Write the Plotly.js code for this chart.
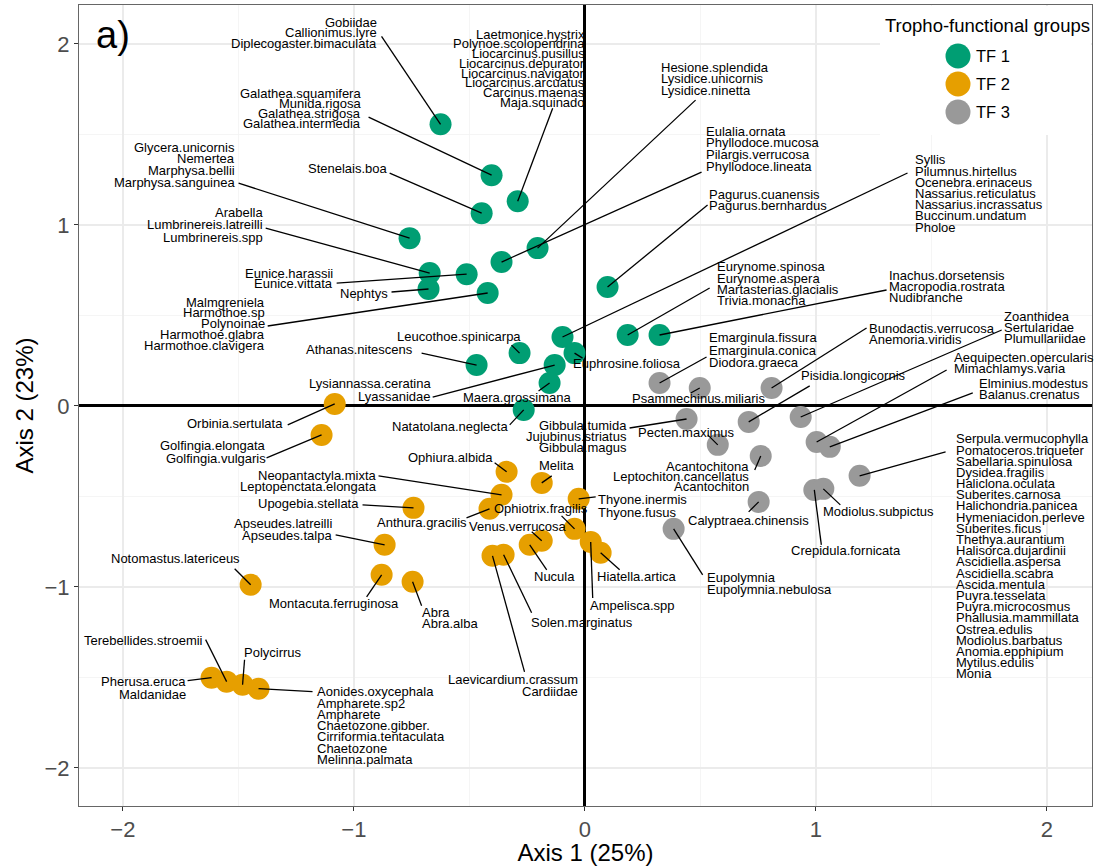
<!DOCTYPE html>
<html><head><meta charset="utf-8">
<script src="https://cdn.plot.ly/plotly-3.0.1.min.js"></script>
<style>html,body{margin:0;padding:0;background:#fff}#chart{width:1101px;height:866px}</style>
</head><body><div id="chart"></div>
<script>
// ---------------- DATA ----------------
const tfNames = ['TF 1', 'TF 2', 'TF 3'];
const tfColors = ['#009E73', '#E69F00', '#999999'];
const xTitle = 'Axis 1 (25%)';
const yTitle = 'Axis 2 (23%)';
const legendTitle = 'Tropho-functional groups';
const panelTag = 'a)';

const tf1X = [-0.625, -0.404, -0.291, -0.447, -0.759, -0.205, -0.361, -0.512, -0.672, -0.677, -0.421, 0.098, -0.097, 0.185, 0.323, -0.283, -0.469, -0.045, -0.131, -0.153, -0.265];
const tf1Y = [1.556, 1.275, 1.131, 1.065, 0.927, 0.872, 0.795, 0.728, 0.734, 0.646, 0.624, 0.657, 0.381, 0.392, 0.392, 0.292, 0.226, 0.292, 0.226, 0.127, -0.022];
const tf1Labels = [
  'Gobiidae\nCallionimus.lyre\nDiplecogaster.bimaculata',
  'Galathea.squamifera\nMunida.rigosa\nGalathea.strigosa\nGalathea.intermedia',
  'Laetmonice.hystrix\nPolynoe.scolopendrina\nLiocarcinus.pusillus\nLiocarcinus.depurator\nLiocarcinus.navigator\nLiocarcinus.arcuatus\nCarcinus.maenas\nMaja.squinado',
  'Stenelais.boa',
  'Glycera.unicornis\nNemertea\nMarphysa.bellii\nMarphysa.sanguinea',
  'Hesione.splendida\nLysidice.unicornis\nLysidice.ninetta',
  'Eulalia.ornata\nPhyllodoce.mucosa\nPilargis.verrucosa\nPhyllodoce.lineata',
  'Eunice.harassii\nEunice.vittata',
  'Arabella\nLumbrinereis.latreilli\nLumbrinereis.spp',
  'Nephtys',
  'Malmgreniela\nHarmothoe.sp\nPolynoinae\nHarmothoe.glabra\nHarmothoe.clavigera',
  'Pagurus.cuanensis\nPagurus.bernhardus',
  'Syllis\nPilumnus.hirtellus\nOcenebra.erinaceus\nNassarius.reticulatus\nNassarius.incrassatus\nBuccinum.undatum\nPholoe',
  'Eurynome.spinosa\nEurynome.aspera\nMartasterias.glacialis\nTrivia.monacha',
  'Inachus.dorsetensis\nMacropodia.rostrata\nNudibranche',
  'Leucothoe.spinicarpa',
  'Athanas.nitescens',
  'Euphrosine.foliosa',
  'Lysiannassa.ceratina\nLyassanidae',
  'Maera.grossimana',
  'Natatolana.neglecta'
];

const tf2X = [-1.083, -1.140, -0.339, -0.187, -0.361, -0.413, -0.742, -0.867, -1.447, -0.880, -0.746, -0.027, -0.045, -0.239, -0.187, -0.400, -0.352, 0.025, 0.068, -1.616, -1.551, -1.482, -1.413];
const tf2Y = [0.011, -0.160, -0.364, -0.425, -0.491, -0.568, -0.563, -0.767, -0.988, -0.933, -0.971, -0.513, -0.679, -0.767, -0.745, -0.828, -0.822, -0.751, -0.811, -1.501, -1.523, -1.540, -1.562];
const tf2Labels = [
  'Orbinia.sertulata',
  'Golfingia.elongata\nGolfingia.vulgaris',
  'Ophiura.albida',
  'Melita',
  'Neopantactyla.mixta\nLeptopenctata.elongata',
  'Anthura.gracilis',
  'Upogebia.stellata',
  'Apseudes.latreilli\nApseudes.talpa',
  'Notomastus.latericeus',
  'Montacuta.ferruginosa',
  'Abra\nAbra.alba',
  'Thyone.inermis\nThyone.fusus',
  'Ophiotrix.fragilis',
  'Nucula',
  'Venus.verrucosa',
  'Laevicardium.crassum\nCardiidae',
  'Solen.marginatus',
  'Ampelisca.spp',
  'Hiatella.artica',
  'Pherusa.eruca\nMaldanidae',
  'Terebellides.stroemii',
  'Polycirrus',
  'Aonides.oxycephala\nAmpharete.sp2\nAmpharete\nChaetozone.gibber.\nCirriformia.tentaculata\nChaetozone\nMelinna.palmata'
];

const tf3X = [0.323, 0.497, 0.808, 0.440, 0.709, 0.934, 1.003, 1.060, 0.575, 0.761, 1.189, 0.993, 1.032, 0.752, 0.384];
const tf3Y = [0.127, 0.099, 0.099, -0.072, -0.088, -0.061, -0.199, -0.226, -0.215, -0.276, -0.386, -0.464, -0.458, -0.530, -0.679];
const tf3Labels = [
  'Emarginula.fissura\nEmarginula.conica\nDiodora.graeca',
  'Psammechinus.miliaris',
  'Bunodactis.verrucosa\nAnemoria.viridis',
  'Gibbula.tumida\nJujubinus.striatus\nGibbula.magus',
  'Pisidia.longicornis',
  'Zoanthidea\nSertularidae\nPlumullariidae',
  'Aequipecten.opercularis\nMimachlamys.varia',
  'Elminius.modestus\nBalanus.crenatus',
  'Pecten.maximus',
  'Acantochitona\nLeptochiton.cancellatus\nAcantochiton',
  'Serpula.vermucophylla\nPomatoceros.triqueter\nSabellaria.spinulosa\nDysidea.fragilis\nHaliclona.oculata\nSuberites.carnosa\nHalichondria.panicea\nHymeniacidon.perleve\nSuberites.ficus\nThethya.aurantium\nHalisorca.dujardinii\nAscidiella.aspersa\nAscidiella.scabra\nAscida.mentula\nPuyra.tesselata\nPuyra.microcosmus\nPhallusia.mammillata\nOstrea.edulis\nModiolus.barbatus\nAnomia.epphipium\nMytilus.edulis\nMonia',
  'Crepidula.fornicata',
  'Modiolus.subpictus',
  'Calyptraea.chinensis',
  'Eupolymnia\nEupolymnia.nebulosa'
];

// ---------------- LABEL PLACEMENT (repel layout, pixel offsets from each point) ----------------
// [segment tail dx, dy, text anchor dx, dy, text alignment, line spacing]  (screen px, y down)
const tf1LabelPos = [
  [-59, -88, -64, -102, 'right', 10.7],
  [-123, -58, -131, -82, 'right', 10],
  [35, -93, 67, -167, 'right', 9.7],
  [-92, -40, -94, -45, 'right', 11],
  [-171, -55, -175, -91, 'right', 11.7],
  [158, -148, 123, -181, 'left', 11.5],
  [200, -90, 204, -131, 'left', 11.7],
  [-130, 9, -134, -1, 'right', 10.7],
  [-164, -45, -167, -61, 'right', 12.5],
  [-37, 3, -41, 4, 'right', 11],
  [-220, 33, -223, 9, 'right', 10.8],
  [100, -82, 101, -93, 'left', 11.5],
  [345, -164, 352, -177, 'left', 11.2],
  [82, -47, 89, -68, 'left', 11.3],
  [227, -45, 229, -59, 'left', 10.8],
  [-8, -8, 1, -17, 'right', 11],
  [-55, -12, -64, -16, 'right', 11],
  [8, 5, -2, 10, 'left', 11],
  [-122, 32, -124, 18, 'right', 13],
  [-11, 8, -33, 15, 'center', 11],
  [-14, 15, -16, 17, 'right', 11]
];
const tf2LabelPos = [
  [-47, 21, -52, 20, 'right', 11],
  [-55, 23, -56, 11, 'right', 12.5],
  [-12, -9, -14, -14, 'right', 11],
  [10, -7, 15, -17, 'center', 11],
  [-123, -19, -125, -19, 'right', 11],
  [-23, 9, -23, 14, 'right', 11],
  [-51, -3, -55, -4, 'right', 11],
  [-49, -10, -53, -21, 'right', 12],
  [-16, -16, -11, -26, 'right', 11],
  [-15, 22, -48, 29, 'center', 11],
  [9, 24, 9, 31, 'left', 11],
  [17, -2, 19, 1, 'left', 12.3],
  [-13, -13, -34, -20, 'center', 11],
  [17, 25, 25, 32, 'center', 11],
  [-10, -9, -24, -14, 'center', 11],
  [32, 116, 85, 124, 'right', 12],
  [28, 58, 27, 68, 'left', 11],
  [2, 56, -1, 64, 'left', 11],
  [19, 17, -4, 24, 'left', 11],
  [-24, 3, -26, 4, 'right', 13],
  [-21, -42, -24, -41, 'right', 11],
  [2, -25, 1, -32, 'left', 11],
  [54, 3, 58, 3, 'left', 11.3]
];
const tf3LabelPos = [
  [47, -26, 49, -45, 'left', 12.3],
  [-9, 5, -1, 10, 'center', 11],
  [95, -60, 97, -60, 'left', 11],
  [-57, 9, -60, 7, 'right', 11],
  [61, -36, 105, -46, 'center', 11],
  [201, -87, 203, -100, 'left', 11],
  [130, -72, 137, -84, 'left', 11],
  [143, -54, 149, -63, 'left', 11],
  [-10, -10, -31, -12, 'center', 11],
  [-6, 14, -12, 11, 'right', 10],
  [86, -24, 96, -37, 'left', 11.19],
  [7, 55, 31.5, 61, 'center', 11],
  [17, 16, 0, 23, 'left', 11],
  [-10, 10, -10.5, 19, 'center', 11],
  [29, 46, 33, 49, 'left', 12]
];

// ---------------- BUILD ----------------
const FONT = 'Liberation Sans, Arial, Helvetica, sans-serif';
const W = 1101, H = 866;
const M = {l: 79, r: 9, t: 5, b: 60};
const px2x = p => (p - M.l) / (W - M.l - M.r);
const px2y = p => (H - M.b - p) / (H - M.t - M.b);

const sets = [
  {x: tf1X, y: tf1Y, labels: tf1Labels, pos: tf1LabelPos},
  {x: tf2X, y: tf2Y, labels: tf2Labels, pos: tf2LabelPos},
  {x: tf3X, y: tf3Y, labels: tf3Labels, pos: tf3LabelPos}
];

const traces = sets.map((s, i) => ({
  type: 'scatter', mode: 'markers', x: s.x, y: s.y, name: tfNames[i],
  text: s.labels.map(l => l.replace(/\n/g, ', ')), hoverinfo: 'text',
  marker: {size: 22, color: tfColors[i], line: {width: 0}, opacity: 1},
  showlegend: false, cliponaxis: false
}));

const shapes = [];
const annotations = [];
sets.forEach(s => {
  s.x.forEach((xv, k) => {
    const yv = s.y[k];
    const [tdx, tdy, adx, ady, align, lh] = s.pos[k];
    shapes.push({
      type: 'line', xref: 'x', yref: 'y', xsizemode: 'pixel', ysizemode: 'pixel',
      xanchor: xv, yanchor: yv, x0: 0, y0: 0, x1: tdx, y1: -tdy,
      line: {color: '#000', width: 1.3}, layer: 'above'
    });
    s.labels[k].split('\n').forEach((t, j) => {
      annotations.push({
        x: xv, y: yv, xref: 'x', yref: 'y', text: t, showarrow: false,
        xanchor: align, yanchor: 'middle', xshift: adx, yshift: -(ady + j * lh),
        font: {family: FONT, size: 13, color: '#000'}, borderpad: 0, borderwidth: 0
      });
    });
  });
});

// legend (drawn inside the panel, top right)
shapes.push({type: 'rect', xref: 'paper', yref: 'paper', x0: px2x(880), x1: px2x(1091), y0: px2y(135), y1: px2y(6),
  fillcolor: '#ffffff', line: {width: 0}, layer: 'above'});
const legY = [56, 84, 112];
tfNames.forEach((n, i) => {
  shapes.push({type: 'circle', xref: 'paper', yref: 'paper', xsizemode: 'pixel', ysizemode: 'pixel',
    xanchor: px2x(958), yanchor: px2y(legY[i]), x0: -12.5, x1: 12.5, y0: -12.5, y1: 12.5,
    fillcolor: tfColors[i], line: {width: 0}, layer: 'above'});
  annotations.push({xref: 'paper', yref: 'paper', x: px2x(975), y: px2y(legY[i]), xanchor: 'left', yanchor: 'middle',
    text: n, showarrow: false, font: {family: FONT, size: 16.5, color: '#000'}, borderpad: 0});
});
annotations.push({xref: 'paper', yref: 'paper', x: px2x(884), y: px2y(26), xanchor: 'left', yanchor: 'middle',
  text: legendTitle, showarrow: false, font: {family: FONT, size: 18.5, color: '#000'}, borderpad: 0});
annotations.push({xref: 'paper', yref: 'paper', x: px2x(95), y: px2y(35), xanchor: 'left', yanchor: 'middle',
  text: panelTag, showarrow: false, font: {family: FONT, size: 38, color: '#000'}, borderpad: 0});

const axisCommon = {
  showgrid: true, gridcolor: '#EBEBEB', gridwidth: 1.3,
  minor: {dtick: 0.5, showgrid: true, gridcolor: '#F2F2F2', gridwidth: 0.8},
  zeroline: true, zerolinecolor: '#000', zerolinewidth: 3,
  showline: true, mirror: true, linecolor: '#666', linewidth: 1,
  ticks: 'outside', ticklen: 4, tickcolor: '#333', tickwidth: 1,
  tickfont: {family: FONT, size: 22, color: '#4D4D4D'},
  dtick: 1, tick0: 0, fixedrange: true
};

const layout = {
  width: W, height: H, margin: M, autosize: false,
  paper_bgcolor: '#fff', plot_bgcolor: '#fff', showlegend: false,
  xaxis: Object.assign({}, axisCommon, {range: [-2.19, 2.195],
    title: {text: xTitle, font: {family: FONT, size: 24, color: '#000'}, standoff: 6}}),
  yaxis: Object.assign({}, axisCommon, {range: [-2.21, 2.215],
    title: {text: yTitle, font: {family: FONT, size: 24, color: '#000'}, standoff: 4}}),
  shapes: shapes, annotations: annotations
};

Plotly.newPlot('chart', traces, layout, {displayModeBar: false, staticPlot: true});
</script></body></html>
